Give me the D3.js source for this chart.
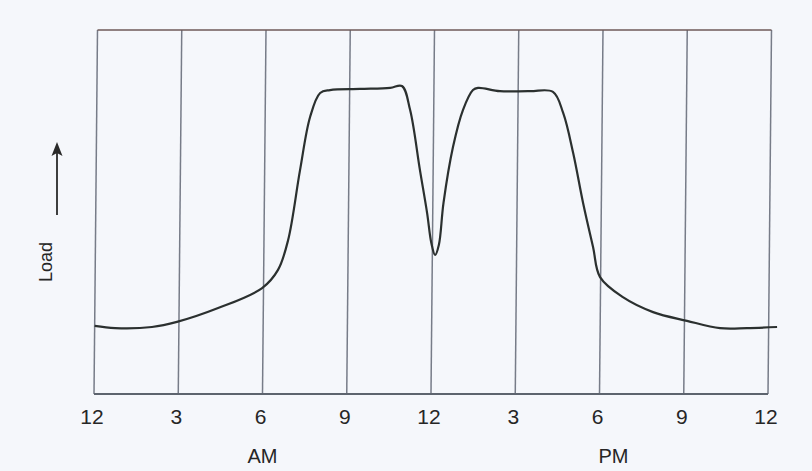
<!DOCTYPE html>
<html>
<head>
<meta charset="utf-8">
<script src="https://cdn.jsdelivr.net/npm/d3@7"></script>
<style>
  html, body { margin: 0; padding: 0; background: #f5f7fb; }
  svg { display: block; }
  text { font-family: "Liberation Sans", Arial, sans-serif; fill: #262626; }
</style>
</head>
<body>
<svg id="chart" width="812" height="471"></svg>
<script>
// Daily load curve: hour of day (0..24) against relative load
const hours = [0, 0.73, 2.04, 2.93, 4.39, 5.95, 6.51, 6.86, 7.26, 7.60, 7.95, 8.30, 9.37, 10.44, 10.86,
  11.16, 11.53, 11.80, 11.96, 12.10, 12.23, 12.38, 12.70, 13.04, 13.39, 13.57, 14.35, 15.42, 16.24,
  16.61, 16.98, 17.35, 17.72, 17.98, 18.80, 19.88, 21.09, 22.27, 23.23, 24.3];
const load = [18.7, 18.1, 18.4, 19.8, 23.6, 29.1, 34.1, 42.3, 61.5, 76.1, 82.7, 83.5, 83.8, 84.1, 84.6,
  78.0, 61.5, 49.7, 41.5, 38.2, 41.0, 52.5, 67.9, 78.0, 83.5, 84.1, 83.2, 83.2, 83.0,
  77.2, 66.2, 52.5, 40.4, 32.1, 26.6, 22.5, 20.1, 18.1, 18.1, 18.4];

// Grid / tick positions (hours) and their clock labels
const tickHours = [0, 3, 6, 9, 12, 15, 18, 21, 24];
const tickLabels = ["12", "3", "6", "9", "12", "3", "6", "9", "12"];
const periodLabels = ["AM", "PM"];
const periodHours = [6, 18.5];

const svg = d3.select("#chart");
const plotLeft = 94, plotRight = 768, plotTop = 30, plotBottom = 394;

const x = d3.scaleLinear().domain([0, 24]).range([plotLeft, plotRight]);
const y = d3.scaleLinear().domain([0, 100]).range([plotBottom, plotTop]);

// The plotted frame leans slightly to the right toward the top
const plot = svg.append("g")
  .attr("transform", `translate(0,${plotBottom}) skewX(-0.55) translate(0,${-plotBottom})`);

// Vertical grid lines every three hours
plot.append("g").selectAll("line")
  .data(tickHours)
  .join("line")
  .attr("x1", d => x(d)).attr("x2", d => x(d))
  .attr("y1", y(100)).attr("y2", y(0))
  .attr("stroke", "#777c88")
  .attr("stroke-width", 1.5);

// Top and bottom edges of the frame
plot.append("line")
  .attr("x1", x(0)).attr("x2", x(24))
  .attr("y1", y(100)).attr("y2", y(100))
  .attr("stroke", "#6e5a58").attr("stroke-width", 1.6);
plot.append("line")
  .attr("x1", x(0)).attr("x2", x(24))
  .attr("y1", y(0)).attr("y2", y(0))
  .attr("stroke", "#5d646e").attr("stroke-width", 1.8);

// Load curve
const line = d3.line()
  .x((d, i) => x(hours[i]))
  .y(d => y(d))
  .curve(d3.curveCatmullRom.alpha(0.5));

plot.append("path")
  .datum(load)
  .attr("d", line)
  .attr("fill", "none")
  .attr("stroke", "#2b302f")
  .attr("stroke-width", 2.2)
  .attr("stroke-linejoin", "round");

// Hour labels under the frame
svg.append("g").selectAll("text")
  .data(tickHours)
  .join("text")
  .attr("x", d => x(d) - 2)
  .attr("y", 424)
  .attr("text-anchor", "middle")
  .attr("font-size", 21)
  .text((d, i) => tickLabels[i]);

// AM / PM captions
svg.append("g").selectAll("text")
  .data(periodHours)
  .join("text")
  .attr("x", d => x(d))
  .attr("y", 463)
  .attr("text-anchor", "middle")
  .attr("font-size", 20)
  .text((d, i) => periodLabels[i]);

// Vertical axis caption with an upward arrow
svg.append("text")
  .attr("transform", "translate(52,262) rotate(-90)")
  .attr("text-anchor", "middle")
  .attr("font-size", 18)
  .text("Load");

svg.append("line")
  .attr("x1", 57).attr("x2", 57)
  .attr("y1", 215).attr("y2", 152)
  .attr("stroke", "#2a2a2a").attr("stroke-width", 1.8);
svg.append("path")
  .attr("d", "M57,142 L51.5,156 L57,153 L62.5,156 Z")
  .attr("fill", "#2a2a2a");
</script>
</body>
</html>
